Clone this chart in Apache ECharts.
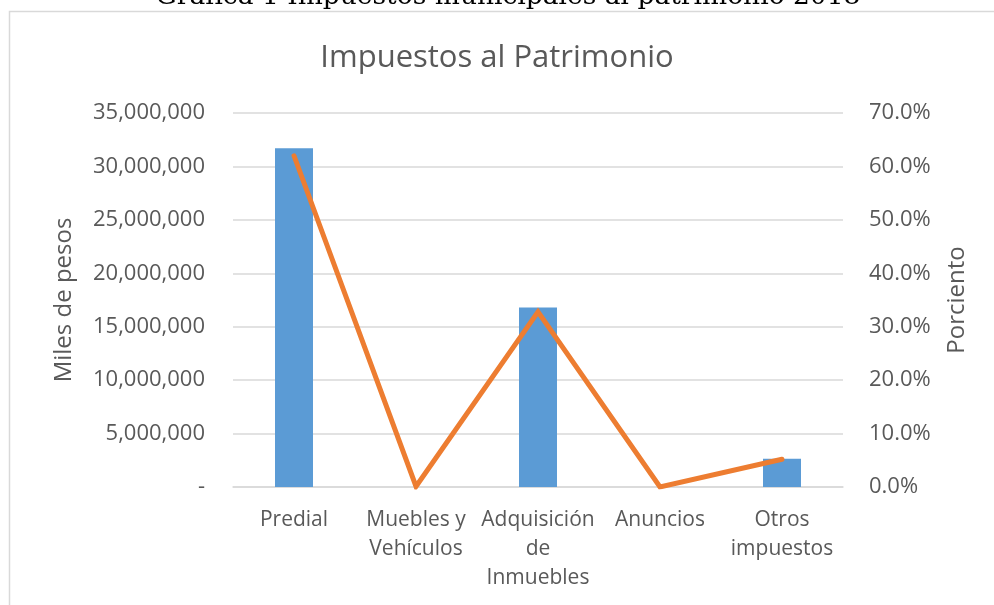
<!DOCTYPE html>
<html><head><meta charset="utf-8">
<script src="https://cdn.jsdelivr.net/npm/echarts@6/dist/echarts.min.js"></script>
<style>html,body{margin:0;padding:0;background:#fff}#c{width:994px;height:605px}</style>
</head><body><div id="c"></div>
<script>
const categories = ['Predial', 'Muebles y\nVehículos', 'Adquisición\nde\nInmuebles', 'Anuncios', 'Otros\nimpuestos'];
const amounts = [31700000, 0, 16800000, 0, 2650000];
const percents = [62.0, 0.1, 32.8, 0.0, 5.2];
const leftTicks = [0, 5000000, 10000000, 15000000, 20000000, 25000000, 30000000, 35000000];
const rightTicks = [0, 10, 20, 30, 40, 50, 60, 70];

const FONT = 'Open Sans';
const GREY = '#595959';
function fmt(v){ if(v===0) return '-'; return String(Math.round(v)).replace(/\B(?=(\d{3})+(?!\d))/g, ','); }

const chart = echarts.init(document.getElementById('c'), null, {renderer:'canvas'});
chart.setOption({
  animation:false,
  textStyle:{fontFamily:FONT},
  title:{text:'Impuestos al Patrimonio', left:'center', top:38, textStyle:{fontFamily:FONT, fontSize:31, fontWeight:'normal', color:GREY}},
  graphic:[
    {type:'rect', shape:{x:9.5, y:11.5, width:1000, height:620}, style:{fill:'none', stroke:'#d9d9d9', lineWidth:1.5}, z:-1},
    {type:'text', x:508, y:11, style:{text:'Gráfica 1 Impuestos municipales al patrimonio 2018', font:'26.5px "DejaVu Serif", serif', fill:'#000', align:'center', verticalAlign:'bottom'}}
  ],
  grid:{left:233, right:151, top:113, bottom:118},
  xAxis:{type:'category', data:categories,
    axisLine:{lineStyle:{color:'#d9d9d9', width:1.5}}, axisTick:{show:false},
    axisLabel:{color:GREY, fontSize:21, fontFamily:FONT, lineHeight:29, margin:19, interval:0}},
  yAxis:[
    {type:'value', min:leftTicks[0], max:leftTicks[leftTicks.length-1], interval:5000000,
     name:'Miles de pesos', nameLocation:'middle', nameGap:157, nameRotate:90,
     nameTextStyle:{color:GREY, fontSize:24, fontFamily:FONT},
     axisLabel:{color:GREY, fontSize:22, fontFamily:FONT, margin:28, formatter:fmt},
     axisLine:{show:false}, axisTick:{show:false},
     splitLine:{lineStyle:{color:'#d9d9d9', width:1.5}}},
    {type:'value', min:rightTicks[0], max:rightTicks[rightTicks.length-1], interval:10,
     name:'Porciento', nameLocation:'middle', nameGap:102, nameRotate:90,
     nameTextStyle:{color:GREY, fontSize:24, fontFamily:FONT},
     axisLabel:{color:GREY, fontSize:22, fontFamily:FONT, margin:26, formatter:v=>v.toFixed(1)+'%'},
     axisLine:{show:false}, axisTick:{show:false}, splitLine:{show:false}}
  ],
  series:[
    {type:'bar', data:amounts, yAxisIndex:0, barWidth:38, itemStyle:{color:'#5B9BD5'}},
    {type:'line', data:percents, yAxisIndex:1, symbol:'none', lineStyle:{color:'#ED7D31', width:5, cap:'round', join:'miter'}}
  ]
});
</script></body></html>
